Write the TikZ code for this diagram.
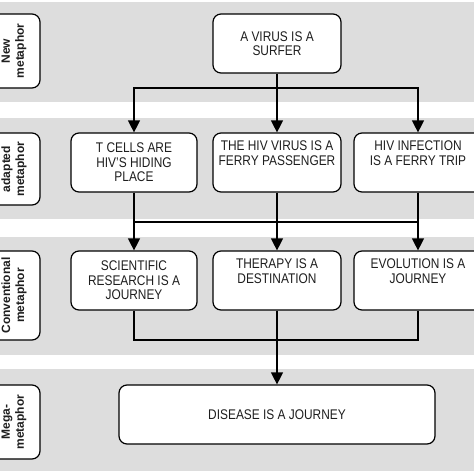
\documentclass[tikz,border=0pt]{standalone}
\usepackage{fontspec}
\setmainfont{Liberation Sans}[FakeStretch=0.85]
\newfontfamily\labelfont{Liberation Sans}
\usetikzlibrary{arrows.meta}
\definecolor{bandgray}{RGB}{221,221,221}
\definecolor{txt}{RGB}{30,30,30}
\tikzset{
  box/.style={draw=black, line width=1.2pt, fill=white, rounded corners=8pt,
    inner sep=0pt, align=center, text=txt,
    font=\fontsize{14}{14.5}\selectfont},
  labbox/.style={draw=black, line width=1.2pt, fill=white, rounded corners=8pt,
    inner sep=0pt, align=center, rotate=90, text=txt,
    font=\labelfont\bfseries\fontsize{12}{14}\selectfont},
  conn/.style={line width=1.2pt, draw=black},
  arr/.style={conn, -{Triangle[width=12pt,length=12pt]}}
}
\begin{document}
\begin{tikzpicture}[x=1pt,y=-1pt]
\useasboundingbox (0,0) rectangle (474,474);
% bands
\fill[bandgray] (0,2) rectangle (474,102);
\fill[bandgray] (0,118) rectangle (474,219);
\fill[bandgray] (0,237) rectangle (474,355);
\fill[bandgray] (0,369) rectangle (474,471);
% labels
\node[labbox, minimum width=74pt, minimum height=52pt] (l1) at (14,51) {New\\metaphor};
\node[labbox, minimum width=72pt, minimum height=52pt] (l2) at (14,169) {adapted\\metaphor};
\node[labbox, minimum width=89pt, minimum height=52pt] (l3) at (14,295.5) {Conventional\\metaphor};
\node[labbox, minimum width=74pt, minimum height=52pt] (l4) at (14,422) {Mega-\\metaphor};
% boxes
\node[box, minimum width=128pt, minimum height=59pt] (surfer) at (277,43.5) {A VIRUS IS A\\SURFER};
\node[box, minimum width=126pt, minimum height=59pt] (tcells) at (134,162.5) {T CELLS ARE\\HIV'S HIDING\\PLACE};
\node[box, minimum width=128pt, minimum height=59pt] (hivvirus) at (277,162.5) {THE HIV VIRUS IS A\\FERRY PASSENGER\\\strut};
\node[box, minimum width=128pt, minimum height=59pt] (hivinf) at (418,162.5) {HIV INFECTION\\IS A FERRY TRIP\\\strut};
\node[box, minimum width=126pt, minimum height=59pt] (sci) at (134,280.5) {SCIENTIFIC\\RESEARCH IS A\\JOURNEY};
\node[box, minimum width=128pt, minimum height=59pt] (therapy) at (277,280.5) {THERAPY IS A\\DESTINATION\\\strut};
\node[box, minimum width=128pt, minimum height=59pt] (evol) at (418,280.5) {EVOLUTION IS A\\JOURNEY\\\strut};
\node[box, minimum width=316pt, minimum height=59pt] (disease) at (277,414.5) {DISEASE IS A JOURNEY};
% junctions
\coordinate (j1) at (277,88);
\coordinate (j2) at (277,222);
\coordinate (j3) at (277,340);
% connectors
\draw[arr] (surfer.south) -- (hivvirus.north);
\draw[arr] (j1) -| (tcells.north);
\draw[arr] (j1) -| (hivinf.north);
\draw[arr] (tcells.south) -- (sci.north);
\draw[arr] (hivvirus.south) -- (therapy.north);
\draw[arr] (hivinf.south) -- (evol.north);
\draw[conn] (j2 -| tcells.south) -- (j2 -| hivinf.south);
\draw[conn] (sci.south) -- (j3 -| sci.south) -- (j3 -| evol.south) -- (evol.south);
\draw[arr] (therapy.south) -- (disease.north);
\end{tikzpicture}
\end{document}
